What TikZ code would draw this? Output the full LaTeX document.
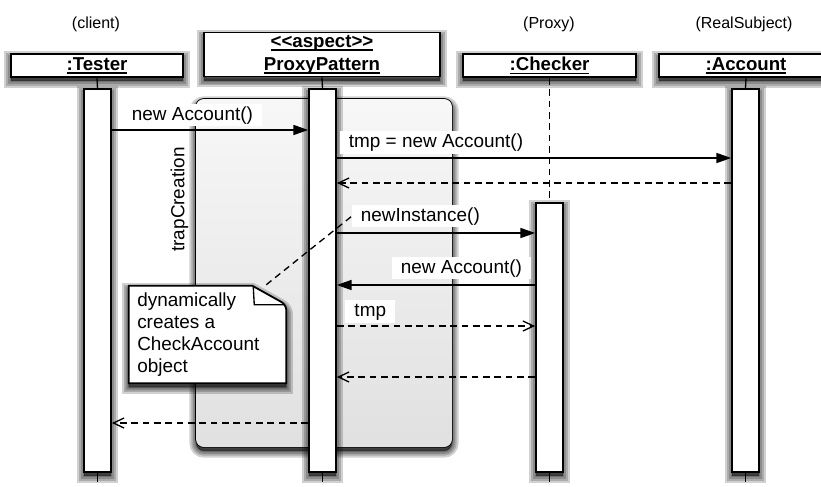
\documentclass[tikz,border=0pt]{standalone}
\usepackage{fontspec}
\setmainfont{Liberation Sans}
\usetikzlibrary{arrows.meta,fit,calc}

% underline at a fixed depth below the baseline
\newcommand\hdul[1]{\setbox0\hbox{#1}\rlap{\rule[-2.6pt]{\wd0}{1pt}}\box0}

\tikzset{
  % soft drop shadow built from stacked translucent strokes
  shadowlayer/.style={preaction={draw=black, fill=black, opacity=0.18,
      line width=#1, transform canvas={yshift=-3pt}}},
  softshadow/.style={shadowlayer=10pt, shadowlayer=7pt, shadowlayer=4.5pt,
      shadowlayer=2pt},
  head/.style={draw, line width=1.3pt, fill=white, softshadow, inner sep=0pt,
      align=center, font=\fontsize{14}{17.25}\selectfont\bfseries},
  actbar/.style={draw, line width=1.3pt, fill=white, softshadow, inner sep=0pt},
  life/.style={line width=1pt},
  dashline/.style={line width=1pt, dash pattern=on 5pt off 3.5pt},
  msg/.style={line width=1pt, -{Triangle[length=11pt,width=7.5pt]}},
  ret/.style={dashline, -{Straight Barb[length=8pt,width=7.5pt]}},
  msglabel/.style={fill=white, anchor=west, inner xsep=6.5pt, inner ysep=0pt,
      minimum height=17pt, text height=10.5pt, text depth=3pt,
      font=\fontsize{14.2}{17}\selectfont},
  role/.style={font=\fontsize{12}{14}\selectfont},
  fragment/.style={draw, line width=1.3pt, rounded corners=6pt, inner sep=0pt,
      fill=black!7, softshadow,
      postaction={top color=black!3, bottom color=black!12}},
}

\begin{document}
\begin{tikzpicture}[x=0.75pt, y=-0.75pt]
\useasboundingbox (0,0) rectangle (821,486);

% roles
\node[role] (rclient) at (96,24) {(client)};
\node[role] (rproxy) at (549,24) {(Proxy)};
\node[role] (rreal) at (744,24) {(RealSubject)};

% participant heads
\node[head, minimum width=129pt, minimum height=17.25pt] (tester) at (97,65.5) {\hdul{:Tester}};
\node[head, minimum width=177pt, minimum height=33pt] (proxy) at (322,54.5)
  {\hdul{<{}<aspect>{}>}\\\hdul{ProxyPattern}};
\node[head, minimum width=129.75pt, minimum height=17.25pt] (checker) at (549.5,65.5) {\hdul{:Checker}};
\node[head, minimum width=130.5pt, minimum height=17.25pt] (account) at (746,65.5) {\hdul{:Account}};

% activation bars
\node[actbar, fit={(84,89) (111,472)}] (tbar) {};
\node[actbar, fit={(536,203) (563,472)}] (cbar) {};
\node[actbar, fit={(732,89) (759,472)}] (abar) {};

% lifeline pieces
\coordinate (tend) at (tbar.south |- 0,482);
\coordinate (pend) at (322.5,482);
\coordinate (cend) at (cbar.south |- 0,482);
\coordinate (aend) at (abar.south |- 0,482);
\draw[life] (tester.south) -- (tbar.north);
\draw[life] (tbar.south) -- (tend);
\draw[dashline] (checker.south) -- (cbar.north);
\draw[life] (cbar.south) -- (cend);
\draw[life] (account.south) -- (abar.north);
\draw[life] (abar.south) -- (aend);

% advice fragment
\node[fragment, fit={(196,99) (452,447)}] (trapfrag) {};
\node[fill=white, rotate=90, inner sep=0pt, minimum width=94pt, minimum height=14pt,
  font=\fontsize{14.2}{17}\selectfont] (trap) at (179.5,199.5) {trapCreation};

% aspect activation bar sits on top of the fragment
\node[actbar, fit={(309,89) (336,472)}] (pbar) {};
\draw[life] (proxy.south) -- (pbar.north);
\draw[life] (pbar.south) -- (pend);

% message levels
\coordinate (y1) at (0,130);
\coordinate (y2) at (0,158);
\coordinate (y3) at (0,183);
\coordinate (y4) at (0,233);
\coordinate (y5) at (0,285);
\coordinate (y6) at (0,326);
\coordinate (y7) at (0,377);
\coordinate (y8) at (0,423);

\draw[msg] (tbar.east |- y1) -- (pbar.west |- y1);
\draw[msg] (pbar.east |- y2) -- (abar.west |- y2);
\draw[ret] (abar.west |- y3) -- (pbar.east |- y3);
\draw[msg] (pbar.east |- y4) -- (cbar.west |- y4);
\draw[msg] (cbar.west |- y5) -- (pbar.east |- y5);
\draw[ret] (pbar.east |- y6) -- (cbar.west |- y6);
\draw[ret] (cbar.west |- y7) -- (pbar.east |- y7);
\draw[ret] (pbar.west |- y8) -- (tbar.east |- y8);

% message labels
\node[msglabel] (l1) at (123,115) {new Account()};
\node[msglabel] (l2) at (340,142.5) {tmp = new Account()};
\node[msglabel] (l4) at (352,216) {newInstance()};
\node[msglabel] (l5) at (392,268) {new Account()};
\node[msglabel, minimum width=37.5pt] (l6) at (345,311.5) {tmp};

% note with folded corner
\node[inner sep=0pt, fit={(129,286) (286,383)}] (note) {};
\path[draw, line width=1.3pt, fill=white, softshadow]
  (note.south west) -- (note.north west) -- ($(note.north east)+(-34,0)$)
  [rounded corners=4pt] -- ($(note.north east)+(0,19)$) [sharp corners]
  -- (note.south east) -- cycle;
\draw[line width=1pt] ($(note.north east)+(-33,1)$) -- ($(note.north east)+(-32,19)$)
  -- ($(note.north east)+(-2,19)$);
\node[anchor=north west, align=left, inner sep=0pt,
  font=\fontsize{14.2}{16.5}\selectfont] (notetext) at (137,292.5)
  {dynamically\\creates a\\CheckAccount\\object};
\coordinate (notetip) at ($(note.north east)+(-20,-1)$);
\draw[dashline] (notetip) -- (l4.west);
\end{tikzpicture}
\end{document}
